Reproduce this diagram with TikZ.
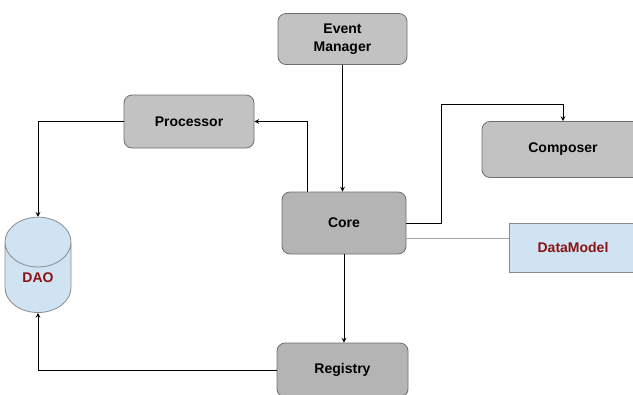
\documentclass[tikz,border=0pt]{standalone}
\usepackage{fontspec}
\setmainfont{Liberation Sans}
\usetikzlibrary{shapes.geometric}

\definecolor{boxgray}{HTML}{C2C2C2}
\definecolor{coregray}{HTML}{B4B4B4}
\definecolor{edgegray}{HTML}{6E6E6E}
\definecolor{dmblue}{HTML}{CFE3F2}
\definecolor{dmred}{HTML}{8B1212}

\begin{document}
\begin{tikzpicture}[x=0.75pt,y=-0.75pt,->,>=stealth,line width=0.6pt,
    main node/.style={-,rectangle,rounded corners=6pt,draw=edgegray,fill=boxgray,font=\bfseries\fontsize{10.5}{14}\selectfont,align=center,inner sep=0pt},
    data node/.style={-,rectangle,draw=edgegray!80,fill=dmblue,text=dmred,font=\bfseries\fontsize{10.5}{14}\selectfont,inner sep=0pt}]

    \useasboundingbox (0,0) rectangle (633,394);

    \node[main node, minimum width=96.75pt, minimum height=38.25pt] (em) at (342.5,39) {Event\\Manager};
    \node[main node, minimum width=97.5pt, minimum height=39.75pt] (proc) at (189,121.5) {Processor};
    \node[main node, minimum width=121.5pt, minimum height=42pt] (comp) at (563,149.5) {Composer};
    \node[main node, fill=coregray, minimum width=93pt, minimum height=46.5pt] (core) at (344,223) {Core};
    \node[data node, minimum width=96pt, minimum height=36.75pt] (dm) at (573,247.5) {DataModel};
    \node[main node, fill=coregray, minimum width=98.25pt, minimum height=40.5pt] (reg) at (342.5,370) {Registry};
    \node[-,cylinder, shape border rotate=90, aspect=1.6, draw=edgegray!80, fill=dmblue, text=dmred,
          font=\bfseries\fontsize{10.5}{14}\selectfont, minimum width=49.5pt, minimum height=71.5pt, inner sep=0pt] (dao) at (38,277.5) {DAO};

    \coordinate (bend) at (441,104);

    \path[every node/.style={font=\small}]
        (em.south) edge (em.south |- core.north)
        (core.south) edge (core.south |- reg.north)
    ;
    \draw (proc.west) -| (dao.north);
    \draw (reg.west) -| (dao.south);
    \draw (core.north) ++(-37,0) |- (proc.east);
    \draw (core.east) -| (bend) -| (comp.north);
    \draw[-,gray!70] (core.east) ++(0,15) coordinate (d0) -- (d0 -| dm.west);
\end{tikzpicture}
\end{document}
